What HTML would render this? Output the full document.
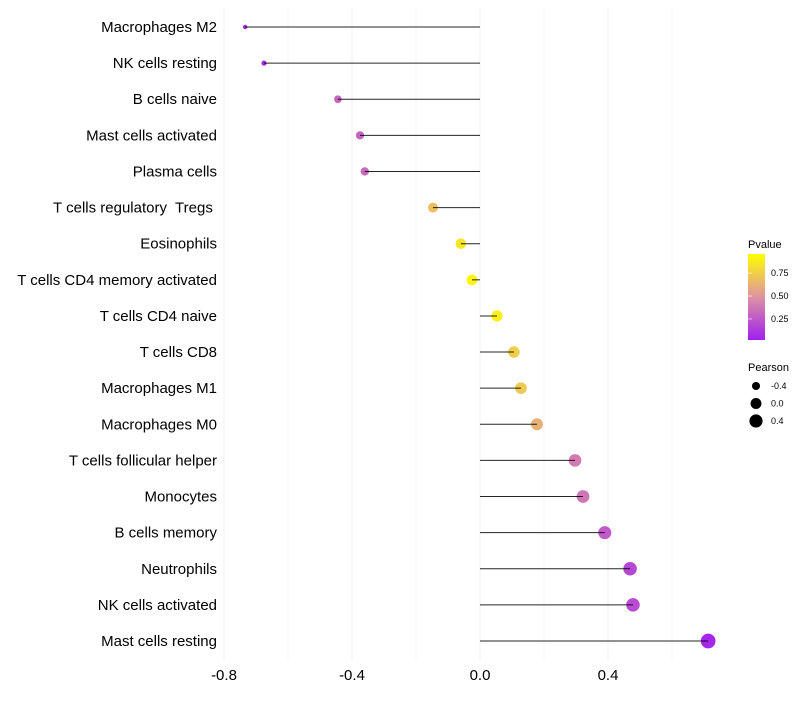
<!DOCTYPE html>
<html><head><meta charset="utf-8"><style>
body{margin:0;background:#fff;font-family:"Liberation Sans",sans-serif}
svg text{font-family:"Liberation Sans",sans-serif;white-space:pre}
</style></head><body>
<svg id="c" width="800" height="700" xmlns="http://www.w3.org/2000/svg">
<defs><linearGradient id="pg" x1="0" y1="1" x2="0" y2="0">
<stop offset="0" stop-color="#A020F0"/><stop offset="0.5" stop-color="#DE92A2"/><stop offset="1" stop-color="#FFFF00"/></linearGradient></defs>
<g id="grid"></g><g id="marks"></g><g id="labels"></g><g id="legend"></g>
</svg>
<script>
const categories=["Macrophages M2","NK cells resting","B cells naive","Mast cells activated","Plasma cells","T cells regulatory  Tregs ","Eosinophils","T cells CD4 memory activated","T cells CD4 naive","T cells CD8","Macrophages M1","Macrophages M0","T cells follicular helper","Monocytes","B cells memory","Neutrophils","NK cells activated","Mast cells resting"];
const pearson=[-0.734,-0.675,-0.444,-0.375,-0.36,-0.147,-0.06,-0.025,0.053,0.106,0.128,0.178,0.297,0.322,0.39,0.469,0.478,0.713];
const pvalue=[0.02,0.06,0.3,0.3,0.32,0.7,0.88,0.96,0.93,0.77,0.75,0.64,0.4,0.38,0.26,0.17,0.19,0.03];
const xTicks=[-0.8,-0.4,0.0,0.4];
const xTickLabels=["-0.8","-0.4","0.0","0.4"];
const pTicks=[0.25,0.5,0.75];
const sizeTicks=[-0.4,0.0,0.4];
const NS="http://www.w3.org/2000/svg";
const X=v=>480+v*320, Y=i=>27+i*(614/17);
const P=v=>340-(v-0.02)*(86/0.94);
const R=v=>Math.sqrt(Math.max(1,5+(v+0.73)*34));
function lerp(a,b,t){return a.map((x,i)=>Math.round(x+(b[i]-x)*t));}
function col(p){const s=[[160,32,240],[222,146,162],[255,255,0]];let c=p<0.5?lerp(s[0],s[1],p/0.5):lerp(s[1],s[2],(p-0.5)/0.5);return `rgb(${c})`;}
function mk(t,a,parent){const e=document.createElementNS(NS,t);for(const k in a)e.setAttribute(k,a[k]);document.getElementById(parent).appendChild(e);return e;}
for(let k=0;k<8;k++){const v=-0.8+k*0.2;const g=mk('line',{x1:X(v),x2:X(v),y1:8,y2:660,stroke:k%2==0?'#f0f0f0':'#f6f6f6','stroke-width':1},'grid');

}
xTicks.forEach((v,i)=>{const t=mk('text',{x:X(v),y:680,'font-size':15,'text-anchor':'middle',fill:'#000'},'labels');t.textContent=xTickLabels[i];

});
categories.forEach((c,i)=>{
const t=mk('text',{x:217,y:Y(i)+5,'font-size':15,'text-anchor':'end',fill:'#000'},'labels');t.textContent=c;


const d=mk('circle',{cx:X(pearson[i]),cy:Y(i),r:R(pearson[i]),fill:col(pvalue[i])},'marks');


const l=mk('line',{x1:X(0),x2:X(pearson[i]),y1:Y(i),y2:Y(i),stroke:'#000','stroke-width':1,opacity:0.85},'marks');


});
let t=mk('text',{x:748,y:248,'font-size':11},'legend');t.textContent='Pvalue';


let r=mk('rect',{x:748,y:254,width:17,height:86,fill:'url(#pg)'},'legend');


pTicks.forEach(p=>{const a=mk('text',{x:771,y:P(p)+3,'font-size':9},'legend');a.textContent=p.toFixed(2);


const w=mk('line',{x1:748,x2:752,y1:P(p),y2:P(p),stroke:'#fff','stroke-opacity':0.6},'legend');

});
t=mk('text',{x:748,y:371,'font-size':11},'legend');t.textContent='Pearson';


sizeTicks.forEach((v,i)=>{const yy=386+i*17.5;const c=mk('circle',{cx:756,cy:yy,r:R(v),fill:'#000'},'legend');


const a=mk('text',{x:771,y:yy+3,'font-size':9},'legend');a.textContent=v.toFixed(1);

});
</script>
</body></html>
